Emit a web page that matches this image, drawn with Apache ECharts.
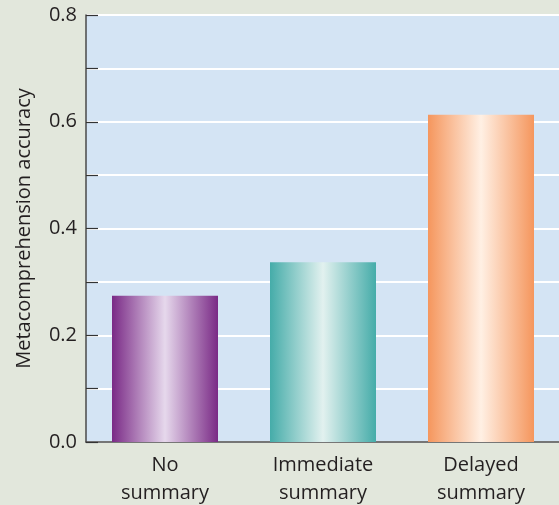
<!DOCTYPE html>
<html><head><meta charset="utf-8">
<script src="https://cdn.jsdelivr.net/npm/echarts@6/dist/echarts.min.js"></script>
<style>html,body{margin:0;padding:0;background:#e2e7dc;}#c{width:559px;height:505px;}</style>
</head><body><div id="c"></div>
<script>
const categories = ['No\nsummary', 'Immediate\nsummary', 'Delayed\nsummary'];
const values = [0.274, 0.337, 0.613];
const edgeColors = ['#7a2a86', '#45aca9', '#f5965d'];
const centerColors = ['#e6d8ec', '#e2f1ef', '#fff0e4'];
const yTicks = [0.0, 0.2, 0.4, 0.6, 0.8];

function grad(i){
  return {type:'linear', x:0, y:0, x2:1, y2:0, colorStops:[
    {offset:0, color:edgeColors[i]},
    {offset:0.5, color:centerColors[i]},
    {offset:1, color:edgeColors[i]}
  ]};
}
const chart = echarts.init(document.getElementById('c'));
chart.setOption({
  backgroundColor:'#e2e7dc',
  animation:false,
  grid:{left:86, top:15, right:-1, bottom:63, show:true, backgroundColor:'#d4e4f4', borderWidth:0, outerBoundsMode:'none', containLabel:false},
  xAxis:{type:'category', data:categories,
    axisLine:{lineStyle:{color:'#4a4a4a', width:1.5}},
    axisTick:{show:false},
    axisLabel:{color:'#231f20', fontSize:20, fontFamily:'Open Sans', lineHeight:28, margin:9}
  },
  yAxis:{type:'value', min:0, max:0.8, interval:0.1,
    name:'Metacomprehension accuracy', nameLocation:'middle', nameGap:52,
    nameTextStyle:{color:'#231f20', fontSize:20, fontFamily:'Open Sans'},
    axisLine:{show:true, lineStyle:{color:'#4a4a4a', width:1.5}},
    axisTick:{show:true, inside:true, length:12, lineStyle:{color:'#333', width:1.2}},
    splitLine:{show:true, lineStyle:{color:'#ffffff', width:2}},
    axisLabel:{color:'#231f20', fontSize:20, fontFamily:'Open Sans', margin:9,
      formatter:function(v){ const r=Math.round(v*10)/10; return yTicks.some(t=>Math.abs(t-r)<1e-9) ? r.toFixed(1) : ''; }}
  },
  series:[{type:'bar', barWidth:106,
    data: values.map((v,i)=>({value:v, itemStyle:{color:grad(i)}}))
  }]
});
</script></body></html>
